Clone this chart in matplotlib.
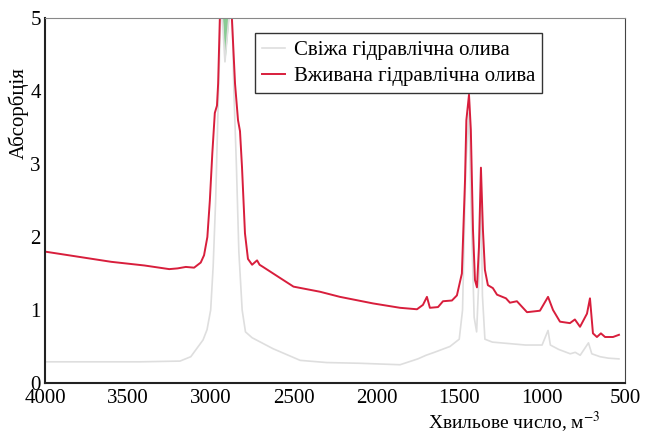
import numpy as np
import matplotlib.pyplot as plt

plt.rcParams['font.family'] = ['Liberation Serif', 'DejaVu Serif']
plt.rcParams['mathtext.fontset'] = 'stix'

# вживана олива (червона лінія)
wn_used = [4000, 3800, 3600, 3400, 3250, 3200, 3150, 3100, 3060, 3040, 3020, 3005,
           2990, 2975, 2962, 2955, 2945, 2935, 2920, 2900, 2880, 2872, 2853, 2835,
           2823, 2811, 2793, 2775, 2750, 2730, 2720, 2705, 2684, 2582, 2500, 2340,
           2220, 2020, 1857, 1755, 1719, 1695, 1677, 1628, 1598, 1544, 1514, 1484,
           1465, 1457, 1441, 1430, 1417, 1405, 1393, 1381, 1369, 1357, 1345, 1327,
           1297, 1272, 1218, 1194, 1152, 1091, 1013, 964, 934, 892, 832, 802, 771,
           729, 711, 693, 669, 645, 620, 572, 536]
abs_used = [1.80, 1.73, 1.66, 1.61, 1.56, 1.57, 1.59, 1.58, 1.65, 1.75, 2.0, 2.5,
            3.15, 3.7, 3.8, 4.1, 4.97, 5.4, 5.6, 5.5, 5.3, 5.0, 4.1, 3.6,
            3.45, 2.96, 2.05, 1.70, 1.62, 1.66, 1.68, 1.62, 1.59, 1.44, 1.32, 1.25,
            1.18, 1.09, 1.03, 1.01, 1.07, 1.18, 1.03, 1.04, 1.12, 1.13, 1.20, 1.50,
            2.78, 3.6, 3.95, 3.47, 2.1, 1.41, 1.31, 1.86, 2.95, 2.1, 1.55, 1.34,
            1.30, 1.21, 1.16, 1.10, 1.12, 0.97, 0.99, 1.18, 1.0, 0.84, 0.82, 0.87, 0.77,
            0.95, 1.16, 0.68, 0.63, 0.68, 0.63, 0.63, 0.66]

# свіжа олива (сіра лінія)
wn_fresh = [4000, 3700, 3427, 3185, 3120, 3046, 3022, 3000, 2985, 2970, 2955, 2940,
            2935, 2914, 2882, 2870, 2860, 2845, 2830, 2810, 2790, 2750, 2624, 2460,
            2300, 2100, 1857, 1750, 1700, 1650, 1556, 1500, 1480, 1460, 1441, 1430,
            1410, 1395, 1380, 1369, 1360, 1345, 1300, 1200, 1100, 1000, 964, 950,
            900, 830, 800, 770, 720, 700, 650, 600, 536]
abs_fresh = [0.29, 0.29, 0.29, 0.30, 0.36, 0.59, 0.73, 1.0, 1.6, 2.5, 3.8, 5.0,
             5.2, 4.4, 5.2, 5.0, 4.0, 3.0, 1.8, 1.0, 0.70, 0.62, 0.47, 0.31,
             0.28, 0.27, 0.25, 0.33, 0.38, 0.42, 0.50, 0.60, 1.0, 3.0, 3.7, 2.5,
             0.9, 0.7, 1.5, 2.7, 1.2, 0.6, 0.56, 0.54, 0.52, 0.52, 0.72, 0.52,
             0.46, 0.40, 0.42, 0.38, 0.55, 0.40, 0.36, 0.34, 0.33]

x_ticks = [4000, 3500, 3000, 2500, 2000, 1500, 1000, 500]
y_ticks = [0, 1, 2, 3, 4, 5]

fig = plt.figure(figsize=(6.48, 4.36), dpi=100)
ax = fig.add_axes([0.0694, 0.1216, 0.895, 0.837])

wf = np.array(wn_fresh)
af = np.array(abs_fresh)
ax.plot(wn_fresh, abs_fresh, color='#dedede', lw=1.2, label='Свіжа гідравлічна олива')
ax.plot(wn_used, abs_used, color='#d81e3c', lw=1.4, label='Вживана гідравлічна олива')
# зелена ділянка між смугами на вершині піку
top = (wf <= 2940) & (wf >= 2875)
ax.fill_between(wf, af, 5, where=top & (af < 5), interpolate=True,
                color='#6dbf7a', alpha=0.8, lw=0)

ax.set_xlim(4000, 500)
ax.set_ylim(0, 5)
ax.set_xticks(x_ticks)
ax.set_yticks(y_ticks)
ax.tick_params(length=0, labelsize=15)
ax.tick_params(axis='x', pad=4)
ax.tick_params(axis='y', pad=3)
for s in ['left', 'bottom']:
    ax.spines[s].set_linewidth(1.5)
    ax.spines[s].set_color('#222222')
ax.spines['right'].set_color('#444444')
ax.spines['top'].set_color('#888888')

ax.set_ylabel('Абсорбція', fontsize=15)
ax.yaxis.set_label_coords(-0.028, 0.74)
ax.set_xlabel('Хвильове число, м$^{-3}$', fontsize=14)
ax.xaxis.set_label_coords(0.81, -0.072)

leg = ax.legend(loc='upper left', bbox_to_anchor=(0.3935, 0.924),
                bbox_transform=fig.transFigure, fontsize=15, frameon=True,
                fancybox=False, framealpha=1, edgecolor='#333333',
                handlelength=1.1, handletextpad=0.4, borderpad=0.35,
                labelspacing=0.3, borderaxespad=0)
leg.get_frame().set_linewidth(1.0)

fig.savefig('out.png', dpi=100)
